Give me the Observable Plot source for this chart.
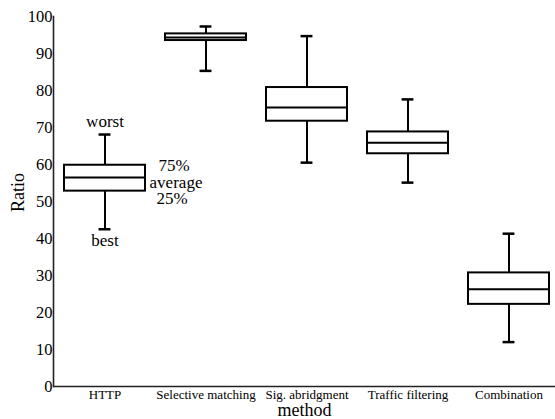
<!DOCTYPE html>
<html>
<head>
<meta charset="utf-8">
<script src="https://cdn.jsdelivr.net/npm/d3@7"></script>
<script src="https://cdn.jsdelivr.net/npm/@observablehq/plot@0.6"></script>
<style>
  html, body { margin: 0; padding: 0; background: #fff; }
  #chart svg { display: block; }
  #chart svg text { font-family: 'Liberation Serif', 'Times New Roman', serif; }
</style>
</head>
<body>
<div id="chart"></div>
<script>
const methods = ["HTTP", "Selective matching", "Sig. abridgment", "Traffic filtering", "Combination"];
const mins    = [42.5, 85.3, 60.5, 55.1, 12.0];
const q1s     = [52.8, 93.5, 71.7, 62.9, 22.2];
const medians = [56.5, 94.3, 75.4, 65.9, 26.3];
const q3s     = [59.8, 95.3, 80.8, 68.8, 30.7];
const maxs    = [68.1, 97.3, 94.7, 77.6, 41.3];
const yTicks  = [0, 10, 20, 30, 40, 50, 60, 70, 80, 90, 100];

const noteLabels = ["worst", "75%", "average", "25%", "best"];
const noteValues = [71.6, 59.7, 55.0, 50.8, 39.4];
const noteDx     = [0, 69, 71, 67, 0];

const boxes = methods.map((m, i) => ({method: m, min: mins[i], q1: q1s[i], median: medians[i], q3: q3s[i], max: maxs[i]}));
const notes = noteLabels.map((t, i) => ({method: methods[0], label: t, value: noteValues[i], dx: noteDx[i]}));

const font = "'Liberation Serif', 'Times New Roman', serif";
const xRange = [53, 560];
const half = (xRange[1] - xRange[0]) / methods.length * 0.8 / 2;

const chart = Plot.plot({
  width: 555,
  height: 419,
  marginLeft: 53,
  marginRight: 0,
  marginTop: 16,
  marginBottom: 33,
  style: {fontFamily: font, color: "#000", background: "#fff"},
  x: {domain: methods, range: xRange, paddingInner: 0.2, paddingOuter: 0.1, label: null, axis: null},
  y: {domain: [0, 100], label: null, axis: null},
  marks: [
    Plot.axisY({ticks: yTicks, tickSize: 0, tickPadding: 1, fontSize: 16.5, label: null, fontFamily: font, fill: "#000", stroke: "#000", strokeWidth: 0.3}),
    Plot.axisX({tickSize: 0, tickPadding: 3, fontSize: 13, label: null, fontFamily: font, fill: "#000"}),
    Plot.ruleX(boxes, {x: "method", y1: "q3", y2: "max", stroke: "#000", strokeWidth: 2}),
    Plot.ruleX(boxes, {x: "method", y1: "min", y2: "q1", stroke: "#000", strokeWidth: 2}),
    Plot.tickY(boxes, {x: "method", y: "max", stroke: "#000", strokeWidth: 2.5, insetLeft: half - 6, insetRight: half - 6}),
    Plot.tickY(boxes, {x: "method", y: "min", stroke: "#000", strokeWidth: 2.5, insetLeft: half - 6, insetRight: half - 6}),
    Plot.barY(boxes, {x: "method", y1: "q1", y2: "q3", fill: "#fff", stroke: "#000", strokeWidth: 2}),
    Plot.tickY(boxes, {x: "method", y: "median", stroke: "#000", strokeWidth: 2}),
    ...notes.map((n) => Plot.text([n], {x: "method", y: "value", text: "label", dx: n.dx, fontSize: 17, fill: "#000", fontFamily: font})),
    Plot.frame({anchor: "left", stroke: "#222", strokeWidth: 1.6}),
    Plot.ruleY([0], {stroke: "#222", strokeWidth: 1.6}),
    Plot.text(["Ratio"], {frameAnchor: "left", textAnchor: "middle", lineAnchor: "middle", dx: -35, dy: -9, rotate: -90, fontSize: 18, fill: "#000", fontFamily: font}),
    Plot.text(["method"], {frameAnchor: "bottom", textAnchor: "middle", lineAnchor: "middle", dy: 24, fontSize: 18, fill: "#000", fontFamily: font, style: "letter-spacing:1.5px"})
  ]
});
document.getElementById("chart").append(chart);
</script>
</body>
</html>
